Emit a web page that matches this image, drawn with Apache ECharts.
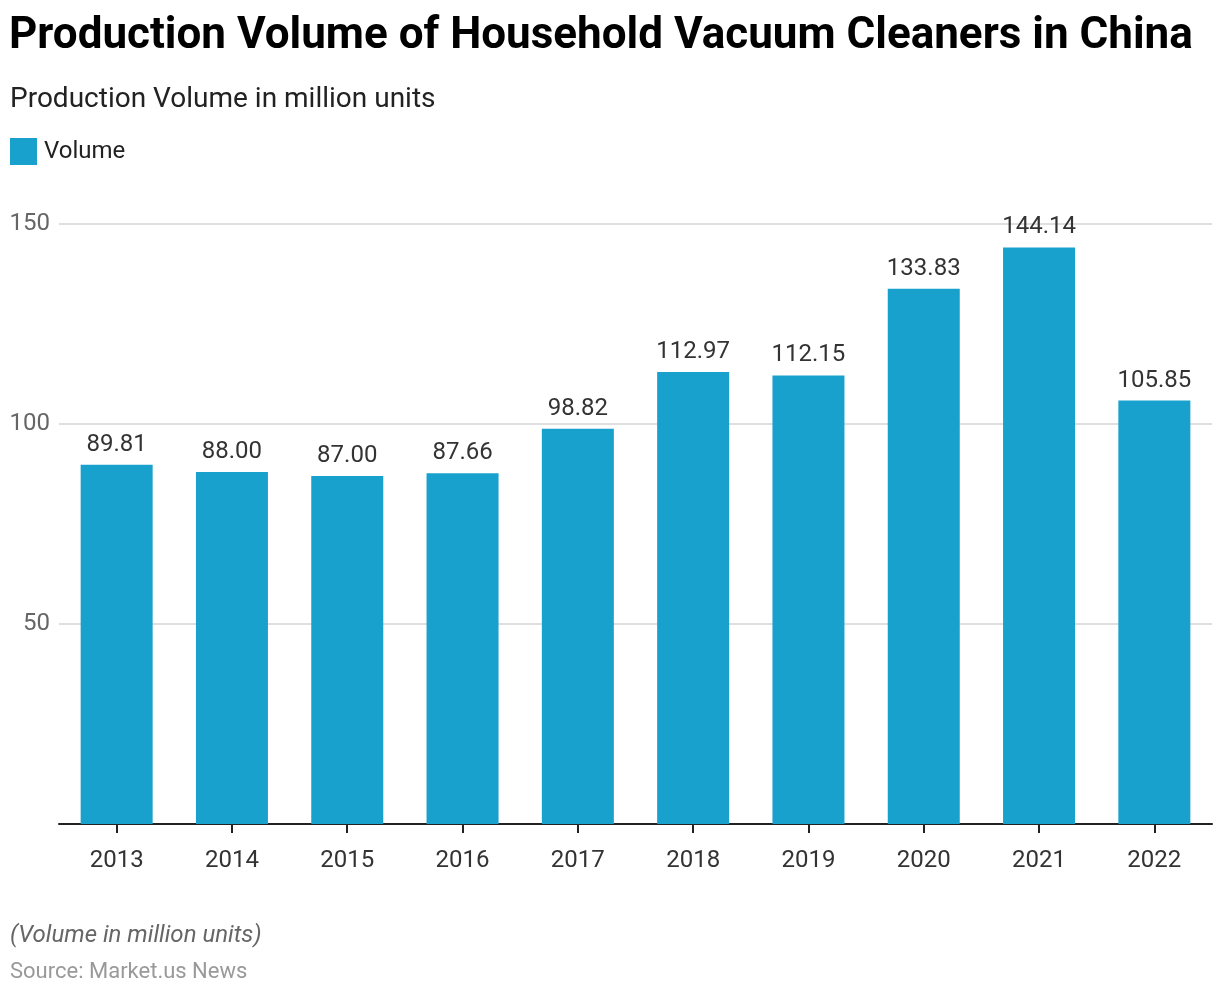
<!DOCTYPE html>
<html>
<head>
<meta charset="utf-8">
<script src="https://cdn.jsdelivr.net/npm/echarts@6/dist/echarts.min.js"></script>
<style>
html,body{margin:0;padding:0;background:#fff;}
#chart{width:1220px;height:994px;}
</style>
</head>
<body>
<div id="chart"></div>
<script>
const categories = ['2013','2014','2015','2016','2017','2018','2019','2020','2021','2022'];
const volume = [89.81, 88.00, 87.00, 87.66, 98.82, 112.97, 112.15, 133.83, 144.14, 105.85];
const yTicks = [50, 100, 150];

const chart = echarts.init(document.getElementById('chart'));
const font = 'Roboto, "Noto Sans", sans-serif';
chart.setOption({
  animation: false,
  backgroundColor: '#fff',
  textStyle: { fontFamily: font },
  title: [
    { text: 'Production Volume of Household Vacuum Cleaners in China', left: 9, top: 15, padding: 0,
      textStyle: { fontSize: 44, fontWeight: 'bold', color: '#000', fontFamily: font } },
    { text: 'Production Volume in million units', left: 10, top: 86, padding: 0,
      textStyle: { fontSize: 28, fontWeight: 'normal', color: '#222', fontFamily: font } }
  ],
  legend: {
    left: 10, top: 138, padding: 0, itemWidth: 27, itemHeight: 27, itemGap: 10,
    icon: 'rect',
    textStyle: { fontSize: 24, color: '#222', fontFamily: font, padding: [0,0,0,2] },
    data: ['Volume']
  },
  grid: { left: 59, right: 8, top: 224, bottom: 170 },
  xAxis: {
    type: 'category', data: categories,
    axisLine: { lineStyle: { color: '#222', width: 2 } },
    axisTick: { show: true, alignWithLabel: true, length: 9, lineStyle: { color: '#222', width: 2 } },
    axisLabel: { fontSize: 24, color: '#333', margin: 25, fontFamily: font }
  },
  yAxis: {
    type: 'value', min: 0, max: 150, interval: 50,
    axisLine: { show: false }, axisTick: { show: false },
    axisLabel: { fontSize: 24, color: '#666', margin: 9, fontFamily: font,
      formatter: v => yTicks.includes(v) ? String(v) : '' },
    splitLine: { lineStyle: { color: '#d4d4d4', width: 1.5 } }
  },
  series: [{
    name: 'Volume', type: 'bar', data: volume, barWidth: 72,
    itemStyle: { color: '#18A1CD' },
    label: { show: true, position: 'top', distance: 8, fontSize: 24, color: '#333', fontFamily: font,
      formatter: p => p.value.toFixed(2) }
  }],
  graphic: [
    { type: 'text', left: 10, top: 924, style: { text: '(Volume in million units)', fontSize: 24, fontStyle: 'italic', fill: '#666', fontFamily: font } },
    { type: 'text', left: 10, top: 961, style: { text: 'Source: Market.us News', fontSize: 22, fill: '#999', fontFamily: font } }
  ]
});
</script>
</body>
</html>
